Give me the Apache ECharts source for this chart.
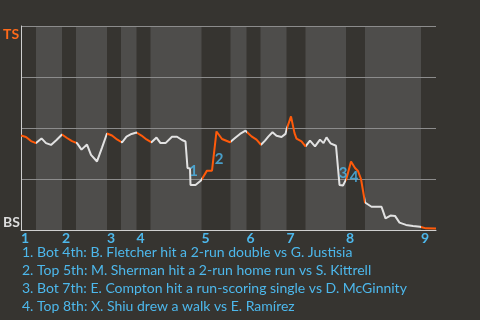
<!DOCTYPE html>
<html>
<head>
<meta charset="utf-8">
<script src="https://cdn.jsdelivr.net/npm/echarts@6/dist/echarts.min.js"></script>
<style>
html,body{margin:0;padding:0;background:#363430;}
#chart{width:480px;height:320px;}
</style>
</head>
<body>
<div id="chart"></div>
<script>
// play index (x) and TS win probability (y)
const plays = [0,1.0,2.0,3.0,4.1,5.0,6.0,7.1,8.2,9.2,10.2,11.2,12.1,13.2,14.0,15.2,16.2,17.2,18.2,19.2,20.2,21.1,22.1,23.1,24.1,25.1,26.1,27.1,27.9,28.9,30.2,31.2,32.2,32.9,33.3,33.8,33.9,34.9,36.0,37.2,38.2,38.6,39.1,40.2,41.8,42.8,43.8,44.9,46.1,47.1,48.0,48.8,49.5,50.3,51.1,52.1,52.9,53.1,54.0,54.7,55.1,56.1,56.9,57.8,58.8,59.8,60.5,61.1,61.9,63.0,63.7,64.4,65.1,66.0,66.8,67.4,68.0,68.8,70.1,72.1,72.9,73.9,74.8,75.7,77.0,78.4,79.8,81.0,83.0];
const winProb = [0.463,0.456,0.436,0.426,0.449,0.426,0.417,0.441,0.468,0.451,0.436,0.426,0.394,0.419,0.368,0.336,0.404,0.473,0.463,0.444,0.429,0.458,0.471,0.478,0.463,0.444,0.430,0.453,0.426,0.426,0.457,0.457,0.441,0.434,0.304,0.301,0.221,0.221,0.243,0.291,0.291,0.377,0.483,0.446,0.430,0.451,0.471,0.487,0.459,0.443,0.418,0.438,0.459,0.479,0.462,0.456,0.471,0.492,0.557,0.475,0.448,0.435,0.410,0.438,0.410,0.443,0.426,0.454,0.425,0.413,0.221,0.218,0.252,0.336,0.304,0.289,0.250,0.135,0.114,0.114,0.057,0.071,0.069,0.036,0.025,0.020,0.016,0.008,0.007];
// half-inning start positions (top 1, bot 1, top 2, ...), and game end
const halfStarts = [0,3.0,8.2,11.0,17.2,20.0,23.1,25.9,36.1,41.9,45.1,47.9,53.1,56.9,65.0,68.8,80.0];
const gameEnd = 83;
const inningLabels = ['1','2','3','4','5','6','7','8','9'];
const teamTop = 'TS';
const teamBottom = 'BS';
// key plays: x, y position and label
const keyPlayX = [34.5,39.6,64.4,66.6];
const keyPlayY = [0.289,0.347,0.278,0.261];
const keyPlayLabels = ['1','2','3','4'];
const notes = [
  '1. Bot 4th: B. Fletcher hit a 2-run double vs G. Justisia',
  '2. Top 5th: M. Sherman hit a 2-run home run vs S. Kittrell',
  '3. Bot 7th: E. Compton hit a run-scoring single vs D. McGinnity',
  '4. Top 8th: X. Shiu drew a walk vs E. Ramírez'
];

const ORANGE = '#ff5a0a';
const WHITE = '#e2e2e2';
const BLUE = '#4db8ec';
const FONT = 'Lato';

const bounds = halfStarts.concat([gameEnd]);
const pieces = [];
const bands = [];
for (let i = 0; i < halfStarts.length; i++) {
  pieces.push({gte: bounds[i], lt: bounds[i+1] + (i === halfStarts.length-1 ? 1 : 0), color: i % 2 === 0 ? ORANGE : WHITE});
  if (i % 2 === 1) bands.push([{xAxis: bounds[i]}, {xAxis: bounds[i+1]}]);
}
const inningStarts = halfStarts.filter((v, i) => i % 2 === 0);

const lineData = plays.map((x, i) => [x, winProb[i]]);
const keyData = keyPlayX.map((x, i) => ({value: [x, keyPlayY[i]], name: keyPlayLabels[i]}));

const chart = echarts.init(document.getElementById('chart'), null, {renderer: 'canvas'});
chart.setOption({
  backgroundColor: '#363430',
  animation: false,
  grid: {left: 20, right: 44, top: 26, bottom: 90, containLabel: false},
  xAxis: {
    type: 'value', min: 0, max: gameEnd, z: 2,
    axisLine: {show: true, lineStyle: {color: '#cfcfcf', width: 1}},
    axisTick: {show: false},
    splitLine: {show: false},
    axisLabel: {
      customValues: inningStarts,
      formatter: (v) => inningLabels[inningStarts.indexOf(v)] || '',
      color: BLUE, fontFamily: FONT, fontWeight: 'bold', fontSize: 14,
      align: 'left', margin: 1
    }
  },
  yAxis: {
    type: 'value', min: 0, max: 1, interval: 0.25, z: 2,
    axisLine: {show: true, lineStyle: {color: '#cfcfcf', width: 1}},
    axisTick: {show: false},
    splitLine: {show: true, lineStyle: {color: '#8c8c8c', width: 1}},
    axisLabel: {
      customValues: [0, 1],
      formatter: (v) => v === 1 ? '{ts|' + teamTop + '}' : '{bs|' + teamBottom + '}',
      align: 'left', margin: 18,
      verticalAlign: 'middle',
      rich: {
        ts: {color: '#ff6a1a', fontFamily: FONT, fontWeight: 'bold', fontSize: 14, padding: [16, 0, 0, 0]},
        bs: {color: '#dddddd', fontFamily: FONT, fontWeight: 'bold', fontSize: 14, padding: [0, 0, 16, 0]}
      }
    }
  },
  visualMap: {
    show: false, type: 'piecewise', dimension: 0, seriesIndex: 1,
    pieces: pieces
  },
  series: [
    {
      type: 'line', z: 1, data: [[0, 0], [gameEnd, 0]],
      lineStyle: {opacity: 0}, symbol: 'none', silent: true,
      markArea: {silent: true, itemStyle: {color: '#4e4d4b'}, data: bands}
    },
    {
      type: 'line', z: 3, data: lineData, symbol: 'none',
      lineStyle: {width: 2}
    },
    {
      type: 'scatter', z: 4, data: keyData, symbolSize: 1,
      itemStyle: {color: 'rgba(0,0,0,0)'},
      label: {show: true, position: 'inside', formatter: (p) => p.name,
        color: BLUE, fontFamily: FONT, fontWeight: 'bold', fontSize: 15}
    }
  ],
  graphic: notes.map((t, i) => ({
    type: 'text', left: 22, top: 245 + 18 * i,
    style: {text: t, fill: BLUE, font: '14px ' + FONT}
  }))
});
</script>
</body>
</html>
